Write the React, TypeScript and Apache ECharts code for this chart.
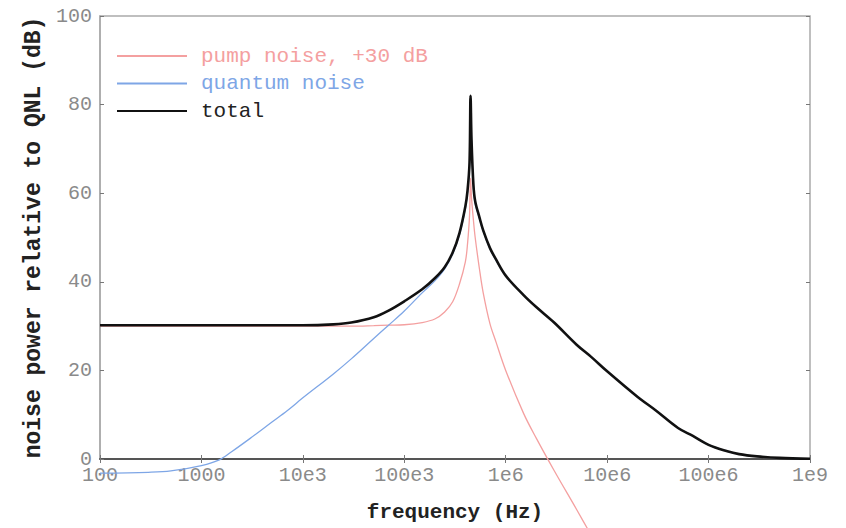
import React, { useEffect, useRef } from "react";
import * as echarts from "echarts";

// Frequencies (Hz) shared by all three curves
const freqs = [
  100, 300, 500, 1e3, 1.5e3, 2e3, 3e3, 5e3, 7e3, 1e4,
  2e4, 3e4, 5e4, 7e4, 1e5, 1.5e5, 2e5, 2.5e5, 3e5, 3.5e5,
  4e5, 4.2e5, 4.4e5, 4.5e5, 4.6e5, 4.8e5, 5e5, 5.5e5, 6e5, 7e5,
  8e5, 1e6, 1.5e6, 2e6, 3e6, 5e6, 7e6, 1e7, 2e7, 3e7,
  5e7, 7e7, 1e8, 1.5e8, 2e8, 3e8, 5e8, 1e9,
];

// pump noise, +30 dB
const pumpDb = [
  30, 30, 30, 30, 30, 30, 30, 30, 30, 30,
  30, 30, 30.1, 30.2, 30.3, 30.8, 31.6, 33.2, 35.5, 39.5,
  44.5, 48.5, 55, 63.4, 59, 54, 50, 43, 37.5, 30.5,
  26.5, 20, 10.3, 4.7, -2.6, -11.4, -17.3, -23.5, null, null,
  null, null, null, null, null, null, null, null,
];

// quantum noise
const quantumDb = [
  -3.2, -3.0, -2.7, -1.5, -0.2, 1.7, 4.6, 8.4, 10.9, 13.8,
  19.2, 22.6, 27.2, 30.2, 33.4, 37.5, 40.2, 42.9, 46.3, 50.6,
  56.6, 60.1, 66.6, 82, 72, 61.6, 57.7, 54.3, 51.4, 47.4,
  44.9, 41.3, 37, 34.3, 30.8, 25.8, 23, 19.8, 14, 11,
  7, 5.2, 3.2, 1.8, 1.1, 0.6, 0.25, 0.05,
];

// total
const totalDb = [
  30.2, 30.2, 30.2, 30.2, 30.2, 30.2, 30.2, 30.2, 30.2, 30.2,
  30.4, 30.8, 32, 33.5, 35.6, 38.3, 40.8, 43.3, 46.6, 51,
  57, 60.5, 67, 82, 72.1, 62, 58.2, 54.6, 51.6, 47.6,
  45.1, 41.4, 37, 34.3, 30.8, 25.8, 23, 19.8, 14, 11,
  7, 5.2, 3.2, 1.8, 1.1, 0.6, 0.25, 0.05,
];

// x tick labels, one per decade from 1e2 to 1e9
const xTickLabels = ["100", "1000", "10e3", "100e3", "1e6", "10e6", "100e6", "1e9"];

const seriesNames = ["pump noise, +30 dB", "quantum noise", "total"];
const seriesColors = ["#f4a0a0", "#7ea6e6", "#111111"];

const MONO = "'Liberation Mono', 'DejaVu Sans Mono', monospace";

function pairs(vals: (number | null)[]) {
  const out: [number, number][] = [];
  freqs.forEach((f, i) => {
    const v = vals[i];
    if (v !== null && v !== undefined) out.push([f, v]);
  });
  return out;
}

export default function App() {
  const ref = useRef<HTMLDivElement>(null);

  useEffect(() => {
    document.body.style.margin = "0";
    document.body.style.overflow = "hidden";
    if (!ref.current) return;
    const chart = echarts.init(ref.current, undefined, { renderer: "svg" });

    const xLabelFmt = (v: number) => {
      const e = Math.round(Math.log10(v));
      return xTickLabels[e - 2] ?? "";
    };

    const tickStyle = { show: true, inside: true, length: 4, lineStyle: { color: "#777777" } };

    const option = {
      animation: false,
      backgroundColor: "#ffffff",
      grid: {
        left: 100,
        right: 36,
        top: 16,
        bottom: 66,
        show: true,
        borderColor: "#aaaaaa",
        borderWidth: 1.5,
        backgroundColor: "transparent",
      },
      legend: {
        orient: "vertical",
        left: 116,
        top: 45.5,
        padding: 0,
        itemWidth: 70,
        itemHeight: 14,
        itemGap: 6.5,
        itemStyle: { opacity: 0 },
        textStyle: {
          fontFamily: MONO,
          fontSize: 21,
          lineHeight: 21,
          padding: [0, 0, 0, 9],
        },
        data: seriesNames.map((n, i) => ({
          name: n,
          textStyle: { color: i === 2 ? "#222222" : seriesColors[i] },
        })),
      },
      xAxis: [
        {
          type: "log",
          logBase: 10,
          min: 100,
          max: 1e9,
          position: "bottom",
          name: "frequency (Hz)",
          nameLocation: "middle",
          nameGap: 43,
          nameTextStyle: {
            fontFamily: MONO,
            fontSize: 21,
            fontWeight: "bold",
            color: "#222222",
          },
          axisLine: { show: true, onZero: false, lineStyle: { color: "#555555", width: 2 } },
          axisTick: tickStyle,
          minorTick: { show: false },
          axisLabel: {
            formatter: xLabelFmt,
            color: "#8a8a8a",
            fontFamily: MONO,
            fontSize: 20,
            lineHeight: 16,
            margin: 8,
          },
          splitLine: { show: false },
        },
        {
          type: "log",
          logBase: 10,
          min: 100,
          max: 1e9,
          position: "top",
          axisLine: { show: false },
          axisTick: tickStyle,
          axisLabel: { show: false },
          splitLine: { show: false },
        },
      ],
      yAxis: [
        {
          type: "value",
          min: 0,
          max: 100,
          interval: 20,
          position: "left",
          name: "noise power relative to QNL (dB)",
          nameLocation: "middle",
          nameGap: 50,
          nameTextStyle: {
            fontFamily: MONO,
            fontSize: 23,
            fontWeight: "bold",
            color: "#222222",
          },
          axisLine: { show: true, lineStyle: { color: "#aaaaaa", width: 1.5 } },
          axisTick: tickStyle,
          axisLabel: {
            color: "#8a8a8a",
            fontFamily: MONO,
            fontSize: 20,
            lineHeight: 14,
            margin: 8,
          },
          splitLine: { show: false },
        },
        {
          type: "value",
          min: 0,
          max: 100,
          interval: 20,
          position: "right",
          axisLine: { show: false },
          axisTick: tickStyle,
          axisLabel: { show: false },
          splitLine: { show: false },
        },
      ],
      series: [
        {
          name: seriesNames[0],
          type: "line",
          data: pairs(pumpDb),
          symbol: "none",
          clip: false,
          smooth: 0.35,
          lineStyle: { color: seriesColors[0], width: 1.3 },
          itemStyle: { color: seriesColors[0] },
          z: 2,
        },
        {
          name: seriesNames[1],
          type: "line",
          data: pairs(quantumDb),
          symbol: "none",
          clip: false,
          smooth: 0.35,
          lineStyle: { color: seriesColors[1], width: 1.3 },
          itemStyle: { color: seriesColors[1] },
          z: 3,
        },
        {
          name: seriesNames[2],
          type: "line",
          data: pairs(totalDb),
          symbol: "none",
          clip: false,
          smooth: 0.35,
          lineStyle: { color: seriesColors[2], width: 2.6 },
          itemStyle: { color: seriesColors[2] },
          z: 4,
        },
      ],
    };

    chart.setOption(option as any);
    return () => chart.dispose();
  }, []);

  return (
    <div style={{ width: 846, height: 528, overflow: "hidden", position: "relative" }}>
      <div ref={ref} style={{ width: 846, height: 528 }} />
    </div>
  );
}
